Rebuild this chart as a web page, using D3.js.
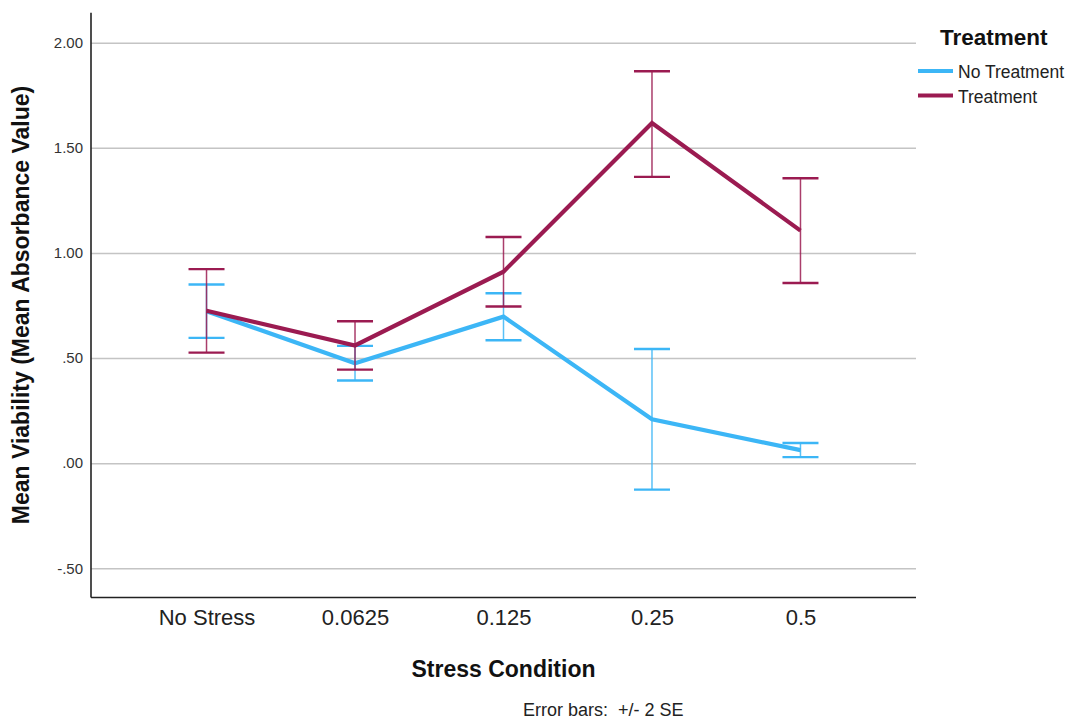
<!DOCTYPE html>
<html>
<head>
<meta charset="utf-8">
<script src="https://cdn.jsdelivr.net/npm/d3@7"></script>
<style>
  body { margin: 0; background: #fff; }
  text { font-family: "Liberation Sans", Arial, sans-serif; }
</style>
</head>
<body>
<div id="chart"></div>
<script>
// stress levels on the x axis
const categories = ["No Stress", "0.0625", "0.125", "0.25", "0.5"];

// No Treatment: means and +/- 2 SE limits
const noTreatMean = [0.723, 0.475, 0.697, 0.209, 0.062];
const noTreatLow  = [0.596, 0.393, 0.585, -0.126, 0.029];
const noTreatHigh = [0.850, 0.558, 0.808, 0.543, 0.096];

// Treatment: means and +/- 2 SE limits
const treatMean = [0.725, 0.560, 0.911, 1.618, 1.106];
const treatLow  = [0.526, 0.445, 0.745, 1.362, 0.857];
const treatHigh = [0.923, 0.675, 1.076, 1.864, 1.355];

const yTicks = [-0.5, 0, 0.5, 1, 1.5, 2];
const groups = ["No Treatment", "Treatment"];

const svg = d3.select("#chart").append("svg")
  .attr("width", 1074)
  .attr("height", 722)

const margin = {top: 12.7, right: 158, bottom: 124.5, left: 91}
const width = 1074 - margin.left - margin.right
const height = 722 - margin.top - margin.bottom

const x = d3.scalePoint()
  .domain(categories)
  .range([margin.left, margin.left + width])
  .padding(0.778)

// 2.00 sits at 42.7px and -.50 at 568.3px in the reference
const y = d3.scaleLinear()
  .domain([-0.5, 2])
  .range([568.3, 42.7])

const z = d3.scaleOrdinal()
  .domain(groups)
  .range(["#3cb6f6", "#9b1b51"])

// spss style tick labels: .50, -.50, 1.00
const fmt = v => v.toFixed(2).replace(/^(-?)0\./, "$1.")

// gridlines
svg.append("g")
  .attr("transform", `translate(${margin.left},0)`)
  .call(d3.axisLeft(y).tickValues(yTicks).tickSize(-width).tickFormat(""))
  .call(g => g.select(".domain").remove())
  .call(g => g.selectAll("line").attr("stroke", "#c4c4c4").attr("stroke-width", 1.4))

// y tick labels
svg.append("g")
  .attr("transform", `translate(${margin.left},0)`)
  .call(d3.axisLeft(y).tickValues(yTicks).tickSize(0).tickPadding(8).tickFormat(fmt))
  .call(g => g.select(".domain").remove())
  .call(g => g.selectAll("text")
    .attr("font-size", "15px")
    .attr("fill", "#333")
    .style("font-family", "'Liberation Sans', Arial, sans-serif"))

// x tick labels
svg.append("g")
  .attr("transform", `translate(0,${margin.top + height})`)
  .call(d3.axisBottom(x).tickSize(0).tickPadding(12))
  .call(g => g.select(".domain").remove())
  .call(g => g.selectAll("text")
    .attr("font-size", "22px")
    .attr("fill", "#222")
    .style("font-family", "'Liberation Sans', Arial, sans-serif"))

// axis frame lines
svg.append("line")
  .attr("x1", margin.left).attr("x2", margin.left)
  .attr("y1", margin.top).attr("y2", margin.top + height)
  .attr("stroke", "#222").attr("stroke-width", 1.6)
svg.append("line")
  .attr("x1", margin.left).attr("x2", margin.left + width)
  .attr("y1", margin.top + height).attr("y2", margin.top + height)
  .attr("stroke", "#222").attr("stroke-width", 1.6)

const series = [
  {name: "No Treatment", mean: noTreatMean, low: noTreatLow, high: noTreatHigh},
  {name: "Treatment", mean: treatMean, low: treatLow, high: treatHigh}
]

const capHalf = 18
const line = d3.line()
  .x(d => x(d.cat))
  .y(d => y(d.mean))

series.forEach(s => {
  const pts = categories.map((c, i) => ({cat: c, mean: s.mean[i], low: s.low[i], high: s.high[i]}))
  const g = svg.append("g")

  g.selectAll(".stem")
    .data(pts)
    .enter()
    .append("line")
    .attr("x1", d => x(d.cat)).attr("x2", d => x(d.cat))
    .attr("y1", d => y(d.low)).attr("y2", d => y(d.high))
    .attr("stroke", z(s.name))
    .attr("stroke-width", 1.5)
    .attr("stroke-opacity", 0.85)

  g.selectAll(".capTop")
    .data(pts)
    .enter()
    .append("line")
    .attr("x1", d => x(d.cat) - capHalf).attr("x2", d => x(d.cat) + capHalf)
    .attr("y1", d => y(d.high)).attr("y2", d => y(d.high))
    .attr("stroke", z(s.name))
    .attr("stroke-width", 2.4)

  g.selectAll(".capBottom")
    .data(pts)
    .enter()
    .append("line")
    .attr("x1", d => x(d.cat) - capHalf).attr("x2", d => x(d.cat) + capHalf)
    .attr("y1", d => y(d.low)).attr("y2", d => y(d.low))
    .attr("stroke", z(s.name))
    .attr("stroke-width", 2.4)

  g.append("path")
    .datum(pts)
    .attr("d", line)
    .attr("fill", "none")
    .attr("stroke", z(s.name))
    .attr("stroke-width", 4.2)
    .attr("stroke-linejoin", "miter")
})

// axis titles
svg.append("text")
  .attr("transform", `translate(29,305) rotate(-90)`)
  .attr("text-anchor", "middle")
  .attr("font-size", "23px")
  .attr("font-weight", "bold")
  .attr("fill", "#111")
  .text("Mean Viability (Mean Absorbance Value)")

svg.append("text")
  .attr("x", x("0.125"))
  .attr("y", 677)
  .attr("text-anchor", "middle")
  .attr("font-size", "23px")
  .attr("font-weight", "bold")
  .attr("fill", "#111")
  .text("Stress Condition")

svg.append("text")
  .attr("x", 523)
  .attr("y", 716)
  .attr("font-size", "18px")
  .attr("fill", "#222")
  .attr("xml:space", "preserve")
  .style("white-space", "pre")
  .text("Error bars:  +/- 2 SE")

// legend
svg.append("text")
  .attr("x", 940)
  .attr("y", 45)
  .attr("font-size", "22.5px")
  .attr("font-weight", "bold")
  .attr("fill", "#111")
  .text("Treatment")

const legend = svg.append("g")
legend.selectAll("line")
  .data(groups)
  .enter()
  .append("line")
  .attr("x1", 918).attr("x2", 953)
  .attr("y1", (d, i) => 71 + i * 24.5)
  .attr("y2", (d, i) => 71 + i * 24.5)
  .attr("stroke", d => z(d))
  .attr("stroke-width", 4)

legend.selectAll("text")
  .data(groups)
  .enter()
  .append("text")
  .attr("x", 958)
  .attr("y", (d, i) => 78 + i * 24.5)
  .attr("font-size", "17.5px")
  .attr("fill", "#222")
  .text(d => d)
</script>
</body>
</html>
